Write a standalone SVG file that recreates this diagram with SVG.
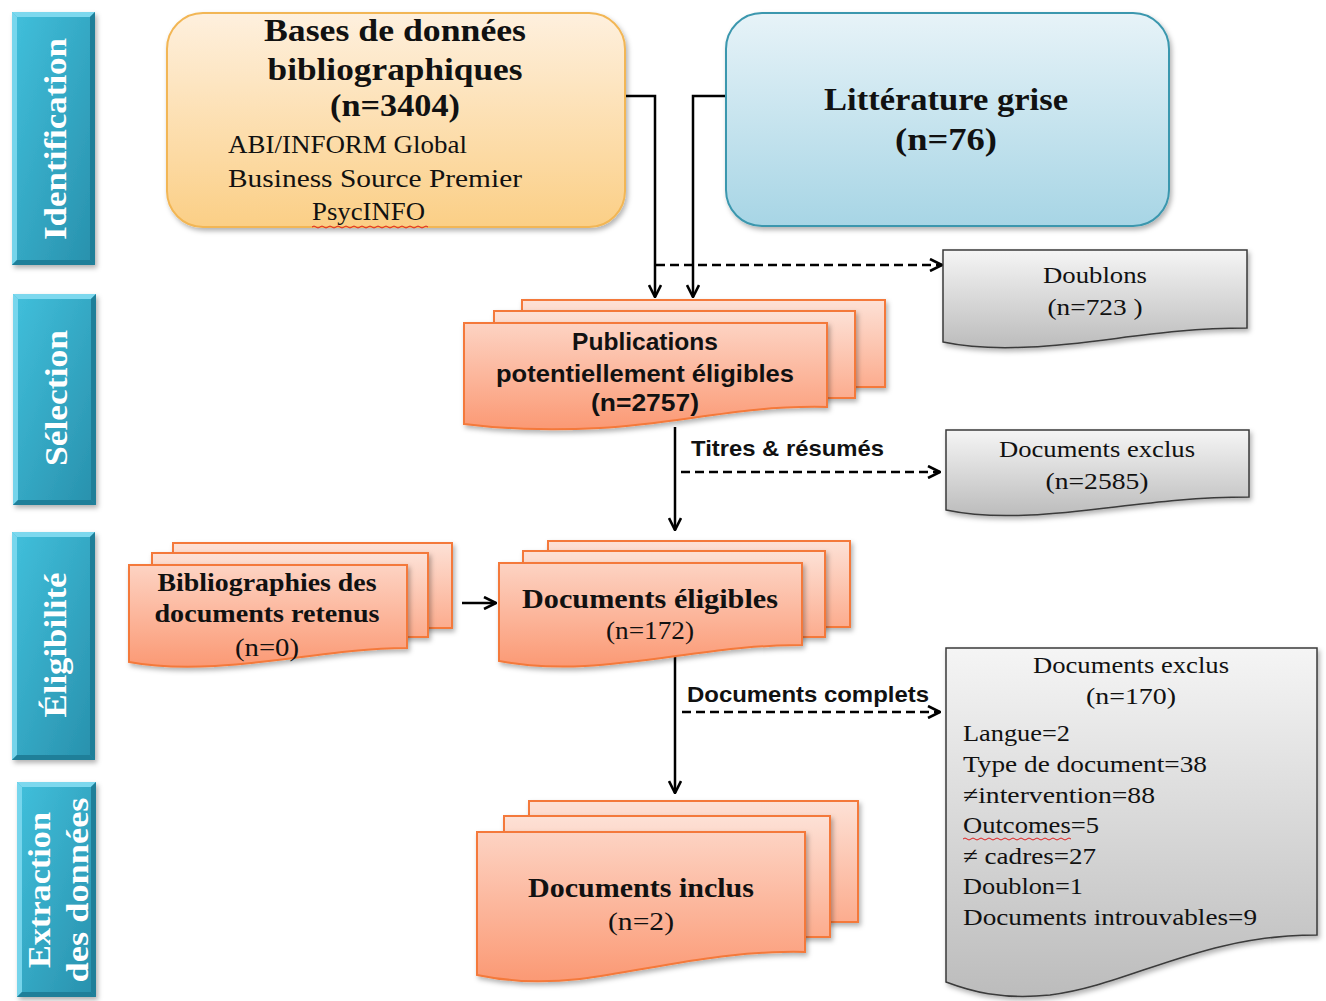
<svg xmlns="http://www.w3.org/2000/svg" width="1326" height="1001" viewBox="0 0 1326 1001">
<style>
.serif{font-family:"Liberation Serif","Times New Roman",serif;fill:#111}
.sans{font-family:"Liberation Sans",Arial,sans-serif;font-weight:bold;fill:#111}
.b{font-weight:bold}
.c{text-anchor:middle}
.bar-t{font-family:"Liberation Serif","Times New Roman",serif;font-weight:bold;fill:#fff;text-anchor:middle}
.conn{fill:none;stroke:#000;stroke-width:2.5}
.dash{stroke-dasharray:9,5}
.pg{stroke:#f4793a;stroke-width:2}
.gray{fill:url(#gGray);stroke:#3a3a3a;stroke-width:1.5}
.lt{fill:#7dd8ee}
.dk{fill:#1f7f99}
.wavy{fill:none;stroke:#e02020;stroke-width:1}
</style>
<defs>
<linearGradient id="gBar" x1="0" y1="0" x2="1" y2="1"><stop offset="0" stop-color="#41c0dc"/><stop offset="1" stop-color="#2890ac"/></linearGradient>
<linearGradient id="gOr" x1="0" y1="0" x2="0" y2="1"><stop offset="0" stop-color="#fef0de"/><stop offset="1" stop-color="#fbcf86"/></linearGradient>
<linearGradient id="gBl" x1="0" y1="0" x2="0" y2="1"><stop offset="0" stop-color="#e7f3f8"/><stop offset="1" stop-color="#a7d5e5"/></linearGradient>
<linearGradient id="gGray" x1="0" y1="0" x2="0" y2="1"><stop offset="0" stop-color="#f5f5f5"/><stop offset="1" stop-color="#bcbcbc"/></linearGradient>
<linearGradient id="gFront" x1="0" y1="0" x2="0" y2="1"><stop offset="0" stop-color="#fdd3c3"/><stop offset="1" stop-color="#fb9974"/></linearGradient>
<linearGradient id="gBack" x1="0" y1="0" x2="0" y2="1"><stop offset="0" stop-color="#fde1d6"/><stop offset="1" stop-color="#fcac8e"/></linearGradient>
<filter id="sh" x="-10%" y="-10%" width="125%" height="130%"><feDropShadow dx="2" dy="3" stdDeviation="2.5" flood-color="#000" flood-opacity="0.3"/></filter>
<marker id="ah" viewBox="0 0 14 14" refX="13" refY="7" markerWidth="14" markerHeight="14" markerUnits="userSpaceOnUse" orient="auto"><path d="M1,1 L13,7 L1,13" fill="none" stroke="#000" stroke-width="2.6"/></marker>
</defs>

<!-- phase bars -->
<g id="bar-identification">
<rect x="12" y="12" width="83" height="253" fill="url(#gBar)" filter="url(#sh)"/>
<polygon class="lt" points="12,12 95,12 90,17 17,17"/>
<polygon class="lt" points="12,12 17,17 17,260 12,265" opacity="0.9"/>
<polygon class="dk" points="95,12 95,265 90,260 90,17"/>
<polygon class="dk" points="12,265 95,265 90,260 17,260"/>
<text class="bar-t" font-size="32" textLength="202" lengthAdjust="spacingAndGlyphs" transform="translate(66,139) rotate(-90)">Identification</text>
</g>
<g id="bar-selection">
<rect x="13" y="294" width="83" height="211" fill="url(#gBar)" filter="url(#sh)"/>
<polygon class="lt" points="13,294 96,294 91,299 18,299"/>
<polygon class="lt" points="13,294 18,299 18,500 13,505" opacity="0.9"/>
<polygon class="dk" points="96,294 96,505 91,500 91,299"/>
<polygon class="dk" points="13,505 96,505 91,500 18,500"/>
<text class="bar-t" font-size="32" textLength="136" lengthAdjust="spacingAndGlyphs" transform="translate(67,398) rotate(-90)">Sélection</text>
</g>
<g id="bar-eligibilite">
<rect x="12" y="532" width="83" height="228" fill="url(#gBar)" filter="url(#sh)"/>
<polygon class="lt" points="12,532 95,532 90,537 17,537"/>
<polygon class="lt" points="12,532 17,537 17,755 12,760" opacity="0.9"/>
<polygon class="dk" points="95,532 95,760 90,755 90,537"/>
<polygon class="dk" points="12,760 95,760 90,755 17,755"/>
<text class="bar-t" font-size="32" textLength="145" lengthAdjust="spacingAndGlyphs" transform="translate(66,645) rotate(-90)">Éligibilité</text>
</g>
<g id="bar-extraction">
<rect x="17" y="782" width="79" height="215" fill="url(#gBar)" filter="url(#sh)"/>
<polygon class="lt" points="17,782 96,782 91,787 22,787"/>
<polygon class="lt" points="17,782 22,787 22,992 17,997" opacity="0.9"/>
<polygon class="dk" points="96,782 96,997 91,992 91,787"/>
<polygon class="dk" points="17,997 96,997 91,992 22,992"/>
<text class="bar-t" font-size="32" textLength="156" lengthAdjust="spacingAndGlyphs" transform="translate(50,890) rotate(-90)">Extraction</text>
<text class="bar-t" font-size="32" textLength="185" lengthAdjust="spacingAndGlyphs" transform="translate(88,890) rotate(-90)">des données</text>
</g>

<!-- connectors -->
<g id="connectors">
<path class="conn" d="M625,96 H655 V297" marker-end="url(#ah)"/>
<path class="conn" d="M726,96 H693 V297" marker-end="url(#ah)"/>
<path class="conn dash" d="M656,265 H942" marker-end="url(#ah)"/>
<path class="conn" d="M675,427 V530" marker-end="url(#ah)"/>
<path class="conn dash" d="M681,472 H940" marker-end="url(#ah)"/>
<text class="sans" x="691" y="456" font-size="22" textLength="193" lengthAdjust="spacingAndGlyphs">Titres &amp; résumés</text>
<path class="conn" d="M462,603 H496" marker-end="url(#ah)"/>
<path class="conn" d="M675,657 V793" marker-end="url(#ah)"/>
<path class="conn dash" d="M682,712 H940" marker-end="url(#ah)"/>
<text class="sans" x="687" y="702" font-size="22" textLength="242" lengthAdjust="spacingAndGlyphs">Documents complets</text>
</g>

<!-- Bases de données -->
<g id="node-bases">
<rect x="167" y="13" width="458" height="214" rx="36" fill="url(#gOr)" stroke="#f2b654" stroke-width="2" filter="url(#sh)"/>
<text class="serif b c" x="395" y="41" font-size="32" textLength="262" lengthAdjust="spacingAndGlyphs">Bases de données</text>
<text class="serif b c" x="395" y="80" font-size="32" textLength="255" lengthAdjust="spacingAndGlyphs">bibliographiques</text>
<text class="serif b c" x="395" y="116" font-size="32" textLength="130" lengthAdjust="spacingAndGlyphs">(n=3404)</text>
<text class="serif" x="228" y="153" font-size="25" textLength="239" lengthAdjust="spacingAndGlyphs">ABI/INFORM Global</text>
<text class="serif" x="228" y="187" font-size="25" textLength="294" lengthAdjust="spacingAndGlyphs">Business Source Premier</text>
<text class="serif" x="312" y="220" font-size="25" textLength="113" lengthAdjust="spacingAndGlyphs">PsycINFO</text>
<path class="wavy" d="M312,227 q2,-2 4,0 t4,0 t4,0 t4,0 t4,0 t4,0 t4,0 t4,0 t4,0 t4,0 t4,0 t4,0 t4,0 t4,0 t4,0 t4,0 t4,0 t4,0 t4,0 t4,0 t4,0 t4,0 t4,0 t4,0 t4,0 t4,0 t4,0 t4,0 t4,0"/>
</g>

<!-- Littérature grise -->
<g id="node-litterature">
<rect x="726" y="13" width="443" height="213" rx="36" fill="url(#gBl)" stroke="#3b97ae" stroke-width="2" filter="url(#sh)"/>
<text class="serif b c" x="946" y="110" font-size="32" textLength="244" lengthAdjust="spacingAndGlyphs">Littérature grise</text>
<text class="serif b c" x="946" y="150" font-size="32" textLength="102" lengthAdjust="spacingAndGlyphs">(n=76)</text>
</g>

<!-- Doublons -->
<g id="node-doublons">
<path class="gray" filter="url(#sh)" d="M943,250 H1247 V328 C1160,328 1100,344 1030,347 C990,349 962,346 943,342 Z"/>
<text class="serif c" x="1095" y="283" font-size="24" textLength="104" lengthAdjust="spacingAndGlyphs">Doublons</text>
<text class="serif c" x="1095" y="315" font-size="24" textLength="95" lengthAdjust="spacingAndGlyphs">(n=723 )</text>
</g>

<!-- Publications potentiellement éligibles -->
<g id="node-publications">
<rect class="pg" x="522" y="300" width="363" height="87" fill="url(#gBack)" filter="url(#sh)"/>
<rect class="pg" x="494" y="311" width="361" height="87" fill="url(#gBack)" filter="url(#sh)"/>
<path class="pg" fill="url(#gFront)" filter="url(#sh)" d="M464,323 H827 V407 C740,405 680,424 600,428 C545,431 495,428 464,424 Z"/>
<text class="sans c" x="645" y="350" font-size="24" textLength="146" lengthAdjust="spacingAndGlyphs">Publications</text>
<text class="sans c" x="645" y="382" font-size="24" textLength="298" lengthAdjust="spacingAndGlyphs">potentiellement éligibles</text>
<text class="sans c" x="645" y="411" font-size="24" textLength="108" lengthAdjust="spacingAndGlyphs">(n=2757)</text>
</g>

<!-- Documents exclus 2585 -->
<g id="node-exclus1">
<path class="gray" filter="url(#sh)" d="M946,430 H1249 V497 C1160,497 1100,512 1030,515 C990,517 965,514 946,510 Z"/>
<text class="serif c" x="1097" y="457" font-size="24" textLength="196" lengthAdjust="spacingAndGlyphs">Documents exclus</text>
<text class="serif c" x="1097" y="489" font-size="24" textLength="103" lengthAdjust="spacingAndGlyphs">(n=2585)</text>
</g>

<!-- Bibliographies des documents retenus -->
<g id="node-bibliographies">
<rect class="pg" x="173" y="543" width="279" height="85" fill="url(#gBack)" filter="url(#sh)"/>
<rect class="pg" x="152" y="553" width="276" height="84" fill="url(#gBack)" filter="url(#sh)"/>
<path class="pg" fill="url(#gFront)" filter="url(#sh)" d="M129,565 H407 V648 C340,648 280,663 215,666 C175,668 150,666 129,662 Z"/>
<text class="serif b c" x="267" y="591" font-size="25" textLength="219" lengthAdjust="spacingAndGlyphs">Bibliographies des</text>
<text class="serif b c" x="267" y="622" font-size="25" textLength="225" lengthAdjust="spacingAndGlyphs">documents retenus</text>
<text class="serif c" x="267" y="656" font-size="25" textLength="64" lengthAdjust="spacingAndGlyphs">(n=0)</text>
</g>

<!-- Documents éligibles -->
<g id="node-eligibles">
<rect class="pg" x="548" y="541" width="302" height="86" fill="url(#gBack)" filter="url(#sh)"/>
<rect class="pg" x="523" y="551" width="302" height="86" fill="url(#gBack)" filter="url(#sh)"/>
<path class="pg" fill="url(#gFront)" filter="url(#sh)" d="M499,563 H802 V645 C720,645 660,662 585,666 C545,668 520,665 499,661 Z"/>
<text class="serif b c" x="650" y="608" font-size="27" textLength="256" lengthAdjust="spacingAndGlyphs">Documents éligibles</text>
<text class="serif c" x="650" y="639" font-size="25" textLength="88" lengthAdjust="spacingAndGlyphs">(n=172)</text>
</g>

<!-- Documents exclus 170 -->
<g id="node-exclus2">
<path class="gray" filter="url(#sh)" d="M946,648 H1317 V935 C1200,935 1130,985 1050,995 C1000,1000 970,991 946,982 Z"/>
<text class="serif c" x="1131" y="673" font-size="24" textLength="196" lengthAdjust="spacingAndGlyphs">Documents exclus</text>
<text class="serif c" x="1131" y="704" font-size="24" textLength="90" lengthAdjust="spacingAndGlyphs">(n=170)</text>
<text class="serif" x="963" y="741" font-size="24" textLength="107" lengthAdjust="spacingAndGlyphs">Langue=2</text>
<text class="serif" x="963" y="772" font-size="24" textLength="244" lengthAdjust="spacingAndGlyphs">Type de document=38</text>
<text class="serif" x="963" y="803" font-size="24" textLength="192" lengthAdjust="spacingAndGlyphs">≠intervention=88</text>
<text class="serif" x="963" y="833" font-size="24" textLength="136" lengthAdjust="spacingAndGlyphs">Outcomes=5</text>
<path class="wavy" d="M963,839 q2,-2 4,0 t4,0 t4,0 t4,0 t4,0 t4,0 t4,0 t4,0 t4,0 t4,0 t4,0 t4,0 t4,0 t4,0 t4,0 t4,0 t4,0 t4,0 t4,0 t4,0 t4,0 t4,0 t4,0 t4,0 t4,0 t4,0 t4,0"/>
<text class="serif" x="963" y="864" font-size="24" textLength="133" lengthAdjust="spacingAndGlyphs">≠ cadres=27</text>
<text class="serif" x="963" y="894" font-size="24" textLength="120" lengthAdjust="spacingAndGlyphs">Doublon=1</text>
<text class="serif" x="963" y="925" font-size="24" textLength="294" lengthAdjust="spacingAndGlyphs">Documents introuvables=9</text>
</g>

<!-- Documents inclus -->
<g id="node-inclus">
<rect class="pg" x="529" y="801" width="329" height="121" fill="url(#gBack)" filter="url(#sh)"/>
<rect class="pg" x="504" y="816" width="326" height="121" fill="url(#gBack)" filter="url(#sh)"/>
<path class="pg" fill="url(#gFront)" filter="url(#sh)" d="M477,832 H805 V952 C720,950 650,970 580,979 C535,984 500,980 477,975 Z"/>
<text class="serif b c" x="641" y="897" font-size="27" textLength="226" lengthAdjust="spacingAndGlyphs">Documents inclus</text>
<text class="serif c" x="641" y="930" font-size="25" textLength="66" lengthAdjust="spacingAndGlyphs">(n=2)</text>
</g>
</svg>
